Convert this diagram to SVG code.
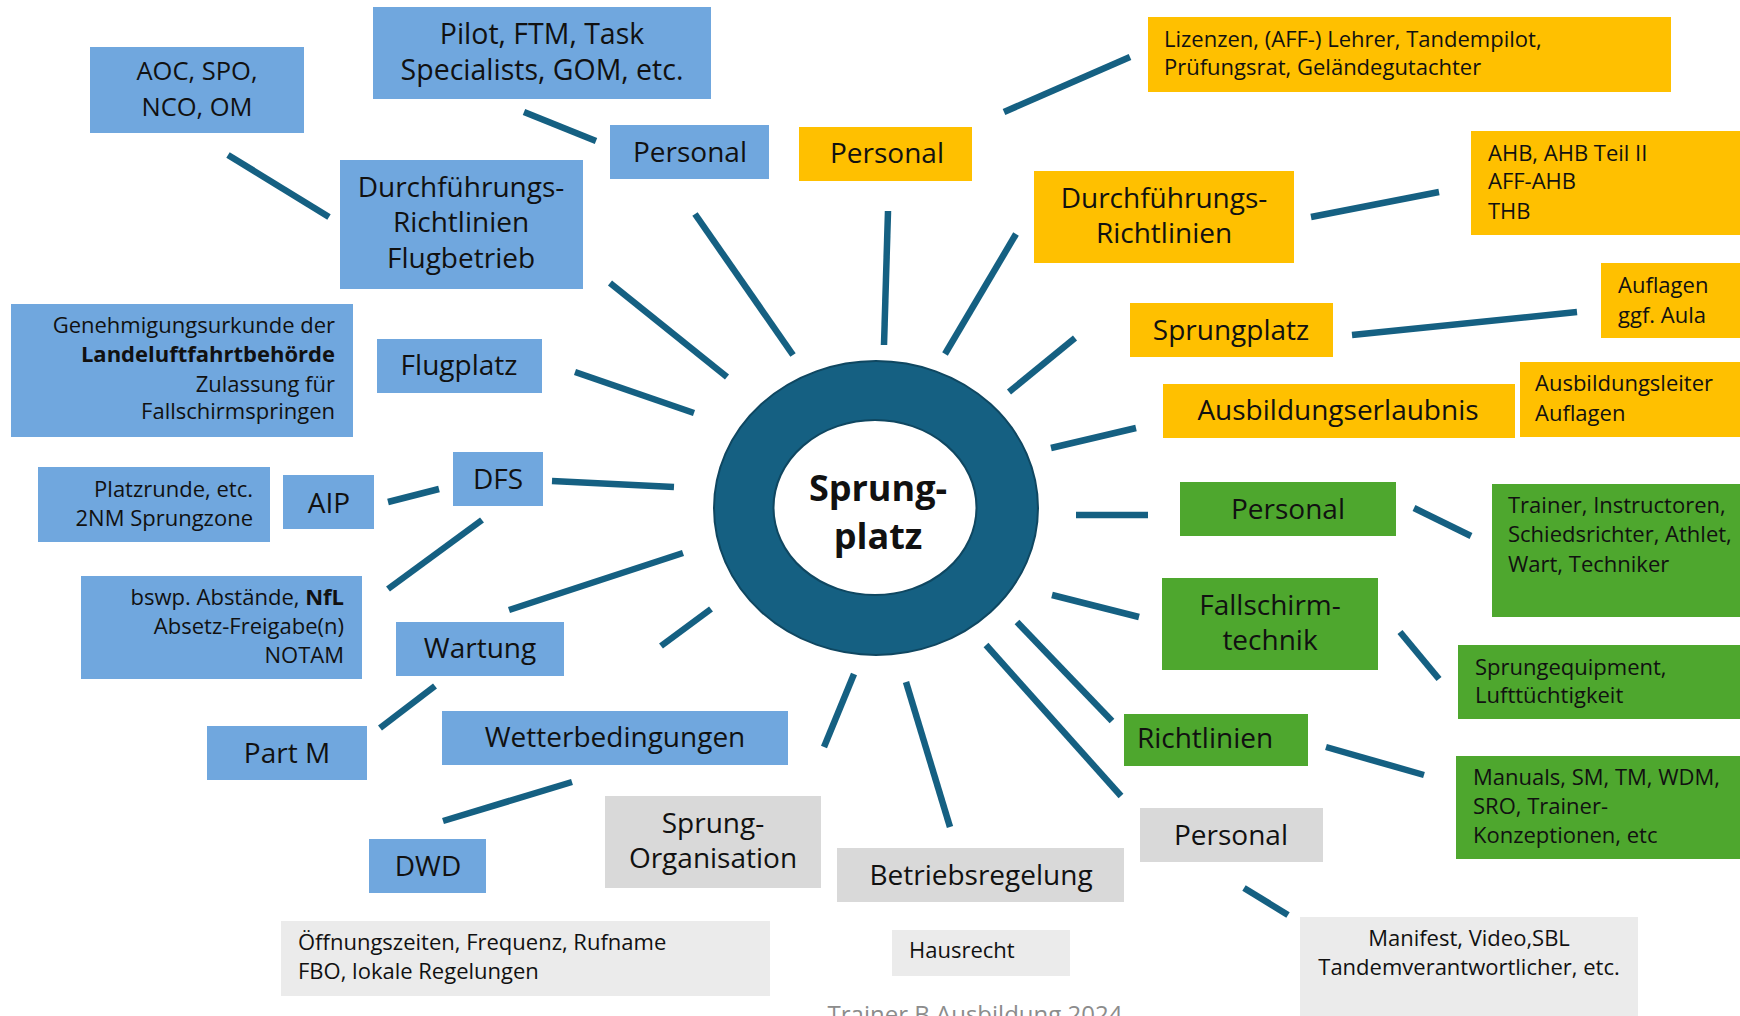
<svg xmlns="http://www.w3.org/2000/svg" width="1740" height="1016" viewBox="0 0 1740 1016">
<style>
text{font-family:"Open Sans","Noto Sans","Liberation Sans",sans-serif;fill:#111}
.b{fill:#70A7DE}.y{fill:#FFC000}.g{fill:#4EA72E}.gr{fill:#D9D9D9}.lg{fill:#EBEBEB}
.L{font-size:28px;text-anchor:middle}
.s{font-size:22px}
.r{text-anchor:end}.c{text-anchor:middle}
.bold{font-weight:bold}
#connectors line{stroke:#156082;stroke-width:6.5;stroke-linecap:butt}
</style>
<rect width="1740" height="1016" fill="#fff"/>
<g id="connectors">
<line x1="524" y1="112" x2="596" y2="141"/>
<line x1="228" y1="155" x2="329" y2="217"/>
<line x1="610" y1="283" x2="727" y2="377"/>
<line x1="695" y1="214" x2="793" y2="355"/>
<line x1="888" y1="211" x2="884" y2="345"/>
<line x1="1016" y1="234" x2="945" y2="354"/>
<line x1="1075" y1="338" x2="1009" y2="392"/>
<line x1="1136" y1="428" x2="1051" y2="448"/>
<line x1="1076" y1="515" x2="1148" y2="515"/>
<line x1="1052" y1="595" x2="1139" y2="617"/>
<line x1="1017" y1="622" x2="1112" y2="721"/>
<line x1="986" y1="645" x2="1121" y2="796"/>
<line x1="906" y1="682" x2="950" y2="827"/>
<line x1="854" y1="674" x2="824" y2="747"/>
<line x1="711" y1="609" x2="661" y2="646"/>
<line x1="509" y1="610" x2="683" y2="553"/>
<line x1="552" y1="481" x2="674" y2="487"/>
<line x1="575" y1="372" x2="694" y2="413"/>
<line x1="388" y1="502" x2="439" y2="489"/>
<line x1="482" y1="520" x2="388" y2="589"/>
<line x1="435" y1="686" x2="380" y2="728"/>
<line x1="572" y1="782" x2="443" y2="821"/>
<line x1="1004" y1="112" x2="1130" y2="57"/>
<line x1="1311" y1="217" x2="1439" y2="192"/>
<line x1="1352" y1="335" x2="1577" y2="312"/>
<line x1="1414" y1="508" x2="1471" y2="536"/>
<line x1="1400" y1="632" x2="1439" y2="679"/>
<line x1="1326" y1="747" x2="1424" y2="775"/>
<line x1="1244" y1="888" x2="1288" y2="915"/>
</g>
<g id="center">
<ellipse cx="876" cy="508" rx="162" ry="147" fill="#156082" stroke="#0F4761" stroke-width="2"/>
<ellipse cx="875" cy="507.5" rx="101.5" ry="87.5" fill="#fff" stroke="#0F4761" stroke-width="2"/>
<text x="878" y="501" class="bold" style="font-size:36px;text-anchor:middle">Sprung-</text>
<text x="878" y="549" class="bold" style="font-size:36px;text-anchor:middle">platz</text>
</g>
<g id="aoc"><rect class="b" x="90" y="47" width="214" height="86"/><text class="c" style="font-size:25.5px" x="197" y="80">AOC, SPO,</text><text class="c" style="font-size:25.5px" x="197" y="116">NCO, OM</text></g>
<g id="pilot"><rect class="b" x="373" y="7" width="338" height="92"/><text class="L" style="font-size:28.5px" x="542" y="44">Pilot, FTM, Task</text><text class="L" style="font-size:28.5px" x="542" y="80">Specialists, GOM, etc.</text></g>
<g id="personal-blue"><rect class="b" x="610" y="125" width="159" height="54"/><text class="L" x="690" y="162">Personal</text></g>
<g id="durch-flugbetrieb"><rect class="b" x="340" y="160" width="243" height="129"/><text class="L" x="461" y="197">Durchführungs-</text><text class="L" x="461" y="232">Richtlinien</text><text class="L" x="461" y="268">Flugbetrieb</text></g>
<g id="genehmigung"><rect class="b" x="11" y="304" width="342" height="133"/><text class="s r" x="335" y="333">Genehmigungsurkunde der</text><text class="s r bold" x="335" y="362">Landeluftfahrtbehörde</text><text class="s r" x="335" y="392">Zulassung für</text><text class="s r" x="335" y="419">Fallschirmspringen</text></g>
<g id="flugplatz"><rect class="b" x="377" y="339" width="165" height="54"/><text class="L" x="459" y="375">Flugplatz</text></g>
<g id="dfs"><rect class="b" x="453" y="452" width="90" height="54"/><text class="L" x="498" y="489">DFS</text></g>
<g id="aip"><rect class="b" x="283" y="475" width="91" height="54"/><text class="L" x="329" y="513">AIP</text></g>
<g id="platzrunde"><rect class="b" x="38" y="467" width="232" height="75"/><text class="s r" x="253" y="497">Platzrunde, etc.</text><text class="s r" x="253" y="526">2NM Sprungzone</text></g>
<g id="bswp"><rect class="b" x="81" y="576" width="281" height="103"/><text class="s r" x="344" y="605">bswp. Abstände, <tspan class="bold">NfL</tspan></text><text class="s r" x="344" y="634">Absetz-Freigabe(n)</text><text class="s r" x="344" y="663">NOTAM</text></g>
<g id="wartung"><rect class="b" x="396" y="622" width="168" height="54"/><text class="L" x="480" y="658">Wartung</text></g>
<g id="partm"><rect class="b" x="207" y="726" width="160" height="54"/><text class="L" x="287" y="763">Part M</text></g>
<g id="wetter"><rect class="b" x="442" y="711" width="346" height="54"/><text class="L" x="615" y="747">Wetterbedingungen</text></g>
<g id="dwd"><rect class="b" x="369" y="839" width="117" height="54"/><text class="L" x="428" y="876">DWD</text></g>
<g id="personal-yellow"><rect class="y" x="799" y="127" width="173" height="54"/><text class="L" x="887" y="163">Personal</text></g>
<g id="lizenzen"><rect class="y" x="1148" y="17" width="523" height="75"/><text class="s" x="1164" y="47">Lizenzen, (AFF-) Lehrer, Tandempilot,</text><text class="s" x="1164" y="75">Prüfungsrat, Geländegutachter</text></g>
<g id="durch-yellow"><rect class="y" x="1034" y="171" width="260" height="92"/><text class="L" x="1164" y="208">Durchführungs-</text><text class="L" x="1164" y="243">Richtlinien</text></g>
<g id="ahb"><rect class="y" x="1471" y="131" width="269" height="104"/><text class="s" x="1488" y="161">AHB, AHB Teil II</text><text class="s" x="1488" y="189">AFF-AHB</text><text class="s" x="1488" y="219">THB</text></g>
<g id="sprungplatz"><rect class="y" x="1130" y="303" width="203" height="54"/><text class="L" x="1231" y="340">Sprungplatz</text></g>
<g id="auflagen"><rect class="y" x="1601" y="263" width="139" height="75"/><text class="s" x="1618" y="293">Auflagen</text><text class="s" x="1618" y="323">ggf. Aula</text></g>
<g id="ausbildungserlaubnis"><rect class="y" x="1163" y="384" width="352" height="54"/><text class="L" x="1338" y="420">Ausbildungserlaubnis</text></g>
<g id="ausbildungsleiter"><rect class="y" x="1520" y="362" width="220" height="75"/><text class="s" x="1535" y="391">Ausbildungsleiter</text><text class="s" x="1535" y="421">Auflagen</text></g>
<g id="personal-green"><rect class="g" x="1180" y="482" width="216" height="54"/><text class="L" x="1288" y="519">Personal</text></g>
<g id="trainer"><rect class="g" x="1492" y="484" width="248" height="133"/><text class="s" x="1508" y="513">Trainer, Instructoren,</text><text class="s" x="1508" y="542">Schiedsrichter, Athlet,</text><text class="s" x="1508" y="572">Wart, Techniker</text></g>
<g id="fallschirmtechnik"><rect class="g" x="1162" y="578" width="216" height="92"/><text class="L" x="1270" y="615">Fallschirm-</text><text class="L" x="1270" y="650">technik</text></g>
<g id="sprungequipment"><rect class="g" x="1458" y="645" width="282" height="74"/><text class="s" x="1475" y="675">Sprungequipment,</text><text class="s" x="1475" y="703">Lufttüchtigkeit</text></g>
<g id="richtlinien"><rect class="g" x="1124" y="714" width="184" height="52"/><text class="L" x="1205" y="748">Richtlinien</text></g>
<g id="manuals"><rect class="g" x="1456" y="756" width="284" height="103"/><text class="s" x="1473" y="785">Manuals, SM, TM, WDM,</text><text class="s" x="1473" y="814">SRO, Trainer-</text><text class="s" x="1473" y="843">Konzeptionen, etc</text></g>
<g id="personal-gray"><rect class="gr" x="1140" y="808" width="183" height="54"/><text class="L" x="1231" y="845">Personal</text></g>
<g id="sprung-organisation"><rect class="gr" x="605" y="796" width="216" height="92"/><text class="L" x="713" y="833">Sprung-</text><text class="L" x="713" y="868">Organisation</text></g>
<g id="betriebsregelung"><rect class="gr" x="837" y="848" width="287" height="54"/><text class="L" x="981" y="885">Betriebsregelung</text></g>
<g id="hausrecht"><rect class="lg" x="892" y="930" width="178" height="46"/><text class="s" x="909" y="958">Hausrecht</text></g>
<g id="oeffnungszeiten"><rect class="lg" x="281" y="921" width="489" height="75"/><text class="s" x="298" y="950">Öffnungszeiten, Frequenz, Rufname</text><text class="s" x="298" y="979">FBO, lokale Regelungen</text></g>
<g id="manifest"><rect class="lg" x="1300" y="917" width="338" height="99"/><text class="s c" x="1469" y="946">Manifest, Video,SBL</text><text class="s c" x="1469" y="975">Tandemverantwortlicher, etc.</text></g>
<text x="975" y="1023" style="font-size:24px;text-anchor:middle;fill:#8C8C8C">Trainer B Ausbildung 2024</text>
</svg>
